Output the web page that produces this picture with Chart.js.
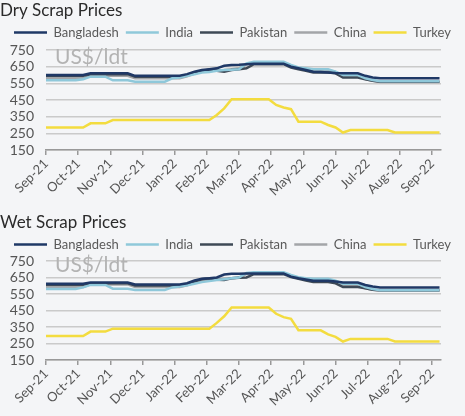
<!DOCTYPE html>
<html>
<head>
<meta charset="utf-8">
<script src="https://cdn.jsdelivr.net/npm/chart.js@4.4.1/dist/chart.umd.min.js"></script>
<style>
  html, body { margin:0; padding:0; background:#f4f5f7; }
  body { width:465px; height:416px; position:relative; overflow:hidden; font-family:Lato, sans-serif; }
  .box { position:absolute; left:0; width:465px; }
  .unit { position:absolute; left:55px; font-family:Lato, sans-serif; font-size:21px; line-height:21px; color:#b3b3b3; pointer-events:none; }
</style>
</head>
<body>
<div class="box" style="top:0;height:205px;"><canvas id="c1"></canvas></div>
<div class="box" style="top:205px;height:211px;"><canvas id="c2"></canvas></div>
<div class="unit" style="top:45px;">US$/ldt</div>
<div class="unit" style="top:253px;">US$/ldt</div>
<script>
const monthLabels = ["Sep-21","Oct-21","Nov-21","Dec-21","Jan-22","Feb-22","Mar-22","Apr-22","May-22","Jun-22","Jul-22","Aug-22","Sep-22"];
const seriesNames = ["Bangladesh","India","Pakistan","China","Turkey"];
const seriesColors = ["#1f3866","#8fc8da","#3e4956","#a3a5a8","#f3dc3f"];

// Weekly prices (US$/ldt), week 0 = early Sep-21
const dryBangladesh = [600,600,600,600,600,600,610,610,610,610,610,610,595,595,595,595,595,595,595,605,620,630,635,640,655,660,662,665,668,668,668,668,668,650,640,630,620,618,615,612,610,610,610,595,585,580,580,580,580,580,580,580,580,580];
const dryIndia      = [568,568,568,568,568,575,590,590,590,568,568,568,560,560,560,560,560,580,585,595,605,615,618,625,630,632,635,670,680,680,680,680,680,660,645,640,635,635,635,620,600,600,600,580,570,562,562,562,562,562,562,562,562,562];
const dryPakistan   = [595,595,595,595,595,595,605,605,605,605,605,605,590,590,590,590,590,590,590,600,615,625,632,625,620,630,635,640,665,665,665,665,665,645,635,625,615,615,615,610,585,585,585,575,565,560,560,560,560,560,560,560,560,560];
const dryChina      = [580,580,580,580,580,580,595,595,595,595,595,595,580,580,580,580,580,580,580,592,608,620,625,628,630,635,640,665,675,675,675,675,675,655,642,635,628,628,628,618,595,595,595,575,565,558,558,558,558,558,558,558,558,558];
const dryTurkey     = [285,285,285,285,285,285,310,310,310,330,330,330,330,330,330,330,330,330,330,330,330,330,330,360,400,455,455,455,455,455,455,420,405,395,320,320,320,320,300,285,255,270,270,270,270,270,270,255,255,255,255,255,255,255];

const wetBangladesh = [612,612,612,612,612,612,620,620,620,620,620,620,608,608,608,608,608,608,608,615,632,642,645,650,668,672,672,674,675,675,675,675,675,655,645,638,630,630,630,626,620,620,620,605,595,590,590,590,590,590,590,590,590,590];
const wetIndia      = [580,580,580,580,580,590,605,605,605,582,582,582,575,575,575,575,575,590,595,603,612,622,628,635,640,645,650,678,682,682,682,682,682,665,652,645,642,642,642,630,612,612,612,592,580,572,572,572,572,572,572,572,572,572];
const wetPakistan   = [606,606,606,606,606,606,615,615,615,615,615,615,602,602,602,602,602,602,602,610,625,640,645,636,635,645,648,650,670,670,670,670,670,652,642,632,622,622,622,615,592,592,592,585,575,572,572,572,572,572,572,572,572,572];
const wetChina      = [592,592,592,592,592,592,608,608,608,608,608,608,592,592,592,592,592,592,592,602,618,630,635,638,642,646,650,672,678,678,678,678,678,660,648,640,635,635,635,625,605,605,605,585,575,570,570,570,570,570,570,570,570,570];
const wetTurkey     = [295,295,295,295,295,295,322,322,322,340,340,340,340,340,340,340,340,340,340,340,340,340,340,375,415,468,468,468,468,468,468,430,410,400,330,330,330,330,305,290,262,278,278,278,278,278,278,262,262,262,262,262,262,262];

const yTicks = [150,250,350,450,550,650,750];
const weeksPerYear = 52;

function makeChart(id, title, series, xAxisHeight, topPad, gapAbovePlot) {
  const datasets = series.map((vals, i) => ({
    label: seriesNames[i],
    data: vals.map((v, w) => ({x: w, y: v})),
    borderColor: seriesColors[i],
    backgroundColor: seriesColors[i],
    borderWidth: 2.5,
    pointRadius: 0,
    tension: 0,
    xAxisID: 'x',
    yAxisID: 'y'
  }));
  return new Chart(document.getElementById(id), {
    type: 'line',
    data: { datasets },
    options: {
      responsive: true,
      maintainAspectRatio: false,
      animation: false,
      layout: { padding: { left: 0, right: 0, top: topPad, bottom: 0 } },
      plugins: {
        title: {
          display: true, text: title, align: 'start',
          color: '#2b2b2b', font: { family: 'Lato', size: 17, weight: 'normal', lineHeight: 1 },
          padding: { top: 0, bottom: 0 }
        },
        legend: {
          display: true,
          labels: {
            usePointStyle: true, pointStyle: 'line', pointStyleWidth: 33,
            color: '#5a5a5a', font: { family: 'Lato', size: 13 }, padding: 7
          }
        },
        tooltip: { enabled: false }
      },
      scales: {
        x: {
          type: 'linear', min: 0, max: 53.2,
          afterBuildTicks: (s) => { s.ticks = monthLabels.map((_, m) => ({ value: m * weeksPerYear / 12 })); },
          afterFit: (s) => { s.height = xAxisHeight; },
          ticks: {
            autoSkip: false, minRotation: 45, maxRotation: 45,
            color: '#555', font: { family: 'Lato', size: 13 }, padding: 1,
            callback: (v, i) => monthLabels[i]
          },
          grid: { drawOnChartArea: false, drawTicks: true, tickLength: 5, color: '#999', lineWidth: 1.5 },
          border: { display: true, color: '#999', width: 1.5 }
        },
        xTop: {
          type: 'linear', position: 'top', display: true, min: 0, max: 53.2,
          afterFit: (s) => { s.height = gapAbovePlot; },
          ticks: { display: false },
          grid: { display: false },
          border: { display: false }
        },
        y: {
          min: 150, max: 750,
          afterBuildTicks: (s) => { s.ticks = yTicks.map(v => ({ value: v })); },
          afterFit: (s) => { s.width = 46; },
          ticks: { autoSkip: false, color: '#555', font: { family: 'Lato', size: 14 }, padding: 12 },
          grid: { color: '#cacaca', lineWidth: 1.6, drawTicks: false },
          border: { display: false }
        },
        yRight: {
          position: 'right', display: true, min: 150, max: 750,
          afterFit: (s) => { s.width = 24; },
          ticks: { display: false },
          grid: { display: false },
          border: { display: false }
        }
      }
    }
  });
}

makeChart('c1', 'Dry Scrap Prices', [dryBangladesh, dryIndia, dryPakistan, dryChina, dryTurkey], 55, 2, 1);
makeChart('c2', 'Wet Scrap Prices', [wetBangladesh, wetIndia, wetPakistan, wetChina, wetTurkey], 56, 9, 0);
</script>
</body>
</html>
